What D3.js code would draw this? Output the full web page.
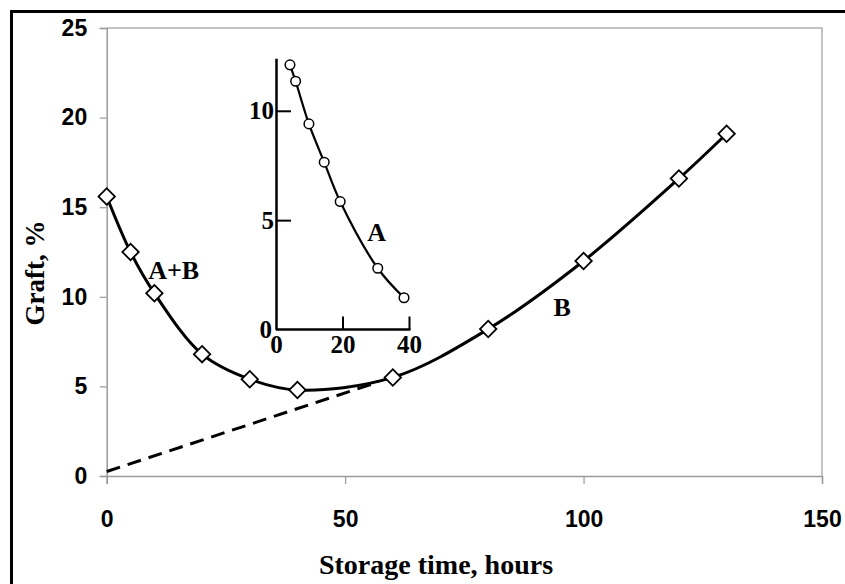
<!DOCTYPE html>
<html>
<head>
<meta charset="utf-8">
<script src="https://cdn.jsdelivr.net/npm/d3@7/dist/d3.min.js"></script>
<style>
  html, body { margin: 0; padding: 0; background: #fff; }
  svg { display: block; }
</style>
</head>
<body>
<svg id="chart" width="845" height="584"></svg>
<script>
// Graft yield vs. storage time (main curve A+B, linear B extrapolation)
const storageHours = [0, 5, 10, 20, 30, 40, 60, 80, 100, 120, 130];
const graftTotal   = [15.6, 12.5, 10.2, 6.8, 5.4, 4.8, 5.5, 8.2, 12.0, 16.6, 19.1];

// Extrapolated contribution of B back to t = 0
const trendHours = [0, 57];
const trendGraft = [0.25, 5.25];

// Inset: component A alone
const insetHours = [4.2, 5.9, 9.9, 14.5, 19.3, 30.6, 38.5];
const insetGraft = [12.1, 11.35, 9.4, 7.65, 5.85, 2.8, 1.45];

const xTicks = [0, 50, 100, 150];
const yTicks = [0, 5, 10, 15, 20, 25];
const insetXTicks = [0, 20, 40];
const insetYTicks = [0, 5, 10];

// Curve labels, in data units of their own panel
const mainLabels = [
  { text: "A+B", x: 8.7, y: 11.0, anchor: "start" },
  { text: "B", x: 95.5, y: 8.95, anchor: "middle" }
];
const insetLabels = [
  { text: "A", x: 30.3, y: 4.05, anchor: "middle" }
];

const svg = d3.select("#chart");
const SANS = "'Liberation Sans', Arial, sans-serif";
const SERIF = "'Liberation Serif', 'Times New Roman', serif";

// Outer frame
svg.append("rect")
  .attr("x", 11.5).attr("y", 11.5)
  .attr("width", 900).attr("height", 700)
  .attr("fill", "none").attr("stroke", "#000").attr("stroke-width", 3);

// Main panel scales
const x = d3.scaleLinear().domain([0, 150]).range([106.7, 822]);
const y = d3.scaleLinear().domain([0, 25]).range([476, 28]);

const axisGray = "#9a9a9a";

// Plot area border (top and right)
svg.append("path")
  .attr("d", `M${x(0)},${y(25)}H${x(150)}V${y(0)}`)
  .attr("fill", "none").attr("stroke", "#b0b0b0").attr("stroke-width", 1.5);

const gx = svg.append("g")
  .attr("transform", `translate(0,${y(0)})`)
  .call(d3.axisBottom(x).tickValues(xTicks).tickSize(8).tickPadding(27).tickFormat(d3.format("d")));
const gy = svg.append("g")
  .attr("transform", `translate(${x(0)},0)`)
  .call(d3.axisLeft(y).tickValues(yTicks).tickSize(7).tickPadding(12.5).tickFormat(d3.format("d")));

[gx, gy].forEach(g => {
  g.select(".domain").attr("stroke", axisGray).attr("stroke-width", 1.5);
  g.selectAll(".tick line").attr("stroke", axisGray).attr("stroke-width", 1.2);
  g.selectAll(".tick text")
    .attr("fill", "#000")
    .style("font-family", SANS)
    .style("font-weight", "bold")
    .style("font-size", "23px");
});

// Axis titles
svg.append("text")
  .attr("x", 436).attr("y", 574)
  .attr("text-anchor", "middle")
  .style("font-family", SERIF).style("font-weight", "bold").style("font-size", "28px")
  .text("Storage time, hours");

svg.append("text")
  .attr("transform", "translate(44,273) rotate(-90)")
  .attr("text-anchor", "middle")
  .style("font-family", SERIF).style("font-weight", "bold").style("font-size", "27px")
  .text("Graft, %");

// Dashed extrapolation of B
const trendData = trendHours.map((h, i) => [h, trendGraft[i]]);
svg.append("path")
  .datum(trendData)
  .attr("d", d3.line().x(d => x(d[0])).y(d => y(d[1])))
  .attr("fill", "none").attr("stroke", "#000")
  .attr("stroke-width", 3).attr("stroke-dasharray", "14,8");

// Main smooth curve
const mainData = storageHours.map((h, i) => [h, graftTotal[i]]);
svg.append("path")
  .datum(mainData)
  .attr("d", d3.line().x(d => x(d[0])).y(d => y(d[1])).curve(d3.curveCatmullRom.alpha(0.5)))
  .attr("fill", "none").attr("stroke", "#000").attr("stroke-width", 3);

// Diamond markers
const diamond = d3.symbol().type(d3.symbolSquare).size(135);
svg.append("g").selectAll("path")
  .data(mainData)
  .join("path")
  .attr("d", diamond)
  .attr("transform", d => `translate(${x(d[0])},${y(d[1])}) rotate(45)`)
  .attr("fill", "#fff").attr("stroke", "#000").attr("stroke-width", 1.8);

svg.append("g").selectAll("text")
  .data(mainLabels)
  .join("text")
  .attr("x", d => x(d.x)).attr("y", d => y(d.y))
  .attr("text-anchor", d => d.anchor)
  .style("font-family", SERIF).style("font-weight", "bold").style("font-size", "26px")
  .text(d => d.text);

// ---- Inset panel ----
const ix = d3.scaleLinear().domain([0, 40]).range([276, 409]);
const iy = d3.scaleLinear().domain([0, 12.4]).range([329.5, 58.3]);

const gix = svg.append("g")
  .attr("transform", `translate(0,${iy(0)})`)
  .call(d3.axisBottom(ix).tickValues(insetXTicks).tickSizeInner(-13).tickSizeOuter(0).tickPadding(6));
const giy = svg.append("g")
  .attr("transform", `translate(${ix(0)},0)`)
  .call(d3.axisLeft(iy).tickValues(insetYTicks).tickSizeInner(-15).tickSizeOuter(0).tickPadding(2));

[gix, giy].forEach(g => {
  g.select(".domain").attr("stroke", "#000").attr("stroke-width", 2.5);
  g.selectAll(".tick line").attr("stroke", "#000").attr("stroke-width", 2);
  g.selectAll(".tick text")
    .attr("fill", "#000")
    .style("font-family", SERIF)
    .style("font-weight", "bold")
    .style("font-size", "25px");
});
// the origin is labelled once on each axis; no tick mark at zero
gix.selectAll(".tick").filter(d => d === 0).select("line").remove();
giy.selectAll(".tick").filter(d => d === 0).select("line").remove();
// x axis line runs from the y axis to just past the last tick
gix.select(".domain").attr("d", `M${ix(0)},0H${ix(40) + 1.5}`);
// y-axis "0" sits level with the x axis, left of the corner
giy.selectAll(".tick").filter(d => d === 0).select("text").attr("dx", -2);

const insetData = insetHours.map((h, i) => [h, insetGraft[i]]);
svg.append("path")
  .datum(insetData)
  .attr("d", d3.line().x(d => ix(d[0])).y(d => iy(d[1])).curve(d3.curveCatmullRom.alpha(0.5)))
  .attr("fill", "none").attr("stroke", "#000").attr("stroke-width", 2.2);

svg.append("g").selectAll("circle")
  .data(insetData)
  .join("circle")
  .attr("cx", d => ix(d[0])).attr("cy", d => iy(d[1]))
  .attr("r", 4.8)
  .attr("fill", "#fff").attr("stroke", "#000").attr("stroke-width", 1.5);

svg.append("g").selectAll("text")
  .data(insetLabels)
  .join("text")
  .attr("x", d => ix(d.x)).attr("y", d => iy(d.y))
  .attr("text-anchor", d => d.anchor)
  .style("font-family", SERIF).style("font-weight", "bold").style("font-size", "26px")
  .text(d => d.text);
</script>
</body>
</html>
